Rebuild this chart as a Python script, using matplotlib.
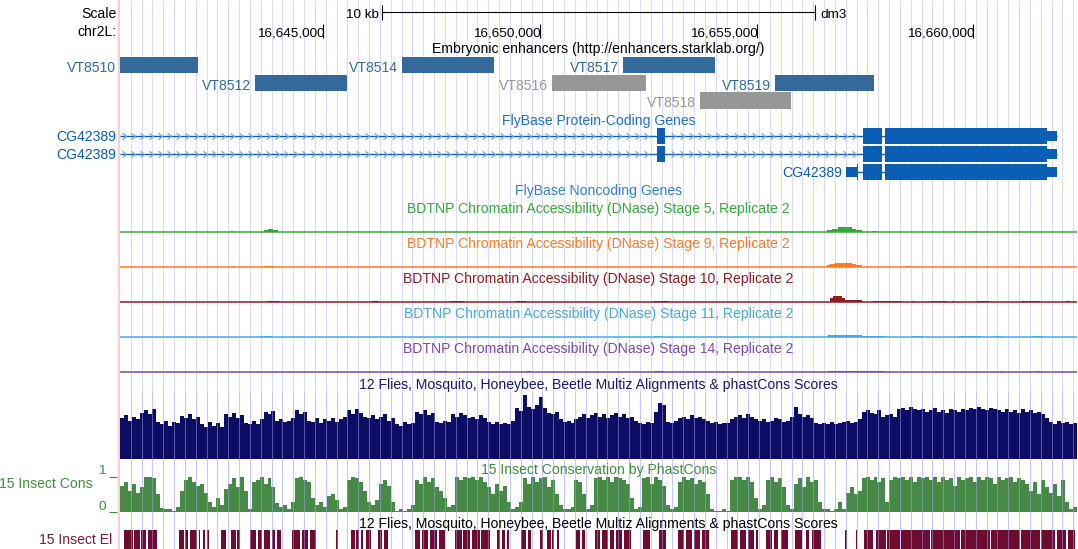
import numpy as np
import matplotlib
matplotlib.use("Agg")
import matplotlib.pyplot as plt
from matplotlib.path import Path

plt.rcParams['font.family'] = ['Liberation Sans', 'DejaVu Sans']

# ------------------------------------------------------------------ data
CHROM_LABEL = "chr2L:"
ASSEMBLY = "dm3"
VIEW_START = 16640309
VIEW_END = 16662393
SCALE_BAR_BP = 10000
scale_label = "10 kb"
tick_positions = [16645000, 16650000, 16655000, 16660000]
tick_labels = ["16,645,000", "16,650,000", "16,655,000", "16,660,000"]

COORD_BASE = 16640000          # offsets below are relative to this coordinate

# Embryonic enhancers (starklab)
enh_names = ["VT8510", "VT8512", "VT8514", "VT8516", "VT8517", "VT8518", "VT8519"]
enh_start = [-500, 3424, 6817, 10278, 11917, 13694, 15424]
enh_end = [2109, 5547, 8940, 12447, 14040, 15794, 17709]
enh_active = [True, True, True, False, True, False, True]
enh_row = [0, 1, 0, 1, 0, 2, 1]

# FlyBase protein-coding transcripts
gene_name = "CG42389"
tx_start = [-4000, -4000, 17063]
tx_end = [21932, 21932, 21932]
tx_thick_start = [-3900, -3900, 17317]
tx_thick_end = [21701, 21701, 21701]
tx_exon_starts = [[-4000, 12701, 17455, 17963], [-4000, 12701, 17455, 17963], [17063, 17455, 17963]]
tx_exon_ends = [[-3600, 12886, 17894, 21932], [-3600, 12886, 17894, 21932], [17340, 17894, 21932]]

# BDTNP DNase accessibility signal: (start offset, end offset, signal)
dnase_stages = ["Stage 5", "Stage 9", "Stage 10", "Stage 11", "Stage 14"]
dnase_s5 = [(2871, 2917, 1), (3632, 3955, 2), (3724, 3840, 3), (16624, 17432, 2.5),
            (16740, 17300, 3.5), (16878, 17201, 5), (17663, 17778, 1), (20040, 20086, 1)]
dnase_s9 = [(2917, 2963, 1), (3632, 3909, 1.5), (6147, 6194, 1), (16624, 17432, 2.5),
            (16700, 17300, 3.5), (16809, 17201, 4.5), (18424, 18563, 1.5), (20294, 20340, 1)]
dnase_s10 = [(3701, 3978, 1.5), (6101, 6286, 1.5), (7924, 8247, 1), (9424, 9678, 1),
             (12632, 12978, 1.5), (16690, 17040, 4), (16760, 16960, 6.5), (16994, 17432, 2),
             (17686, 18355, 1.5), (18586, 18632, 1), (19001, 19394, 1), (19509, 19555, 1),
             (20086, 20386, 1), (21101, 21540, 1.5), (22140, 22232, 1)]
dnase_s11 = [(3540, 3817, 1), (12632, 12771, 1), (16648, 17432, 2.5), (17432, 17963, 1.5),
             (18586, 18840, 1), (19671, 20178, 1.5), (20501, 20663, 1), (21378, 21609, 1)]
dnase_s14 = [(7555, 7855, 1), (9678, 9794, 1), (12632, 12863, 1), (16648, 17963, 1.5),
             (20640, 20686, 1), (21448, 21517, 1.5)]

# Multiz alignment score (fraction of track height), bins of CONS_BIN_BP from VIEW_START
CONS_BIN_BP = 92.0
multiz = [
 0.64,0.68,0.60,0.66,0.62,0.72,0.76,0.70,0.78,0.58,0.55,0.60,0.52,0.58,0.56,0.67,0.64,0.70,0.62,0.66,
 0.55,0.50,0.58,0.52,0.56,0.50,0.70,0.66,0.72,0.64,0.68,0.57,0.55,0.60,0.54,0.62,0.73,0.70,0.75,0.60,
 0.62,0.58,0.60,0.64,0.76,0.70,0.74,0.60,0.58,0.64,0.56,0.62,0.60,0.64,0.58,0.62,0.66,0.76,0.70,0.78,
 0.72,0.66,0.64,0.68,0.62,0.66,0.70,0.60,0.64,0.55,0.52,0.58,0.54,0.56,0.74,0.70,0.76,0.68,0.72,0.58,
 0.56,0.60,0.58,0.70,0.66,0.72,0.68,0.64,0.66,0.62,0.68,0.64,0.58,0.55,0.58,0.54,0.57,0.55,0.60,0.80,
 0.75,1.00,0.82,0.78,0.84,0.97,0.80,0.72,0.70,0.74,0.62,0.58,0.60,0.57,0.62,0.66,0.70,0.64,0.68,0.72,
 0.66,0.70,0.64,0.68,0.72,0.66,0.70,0.64,0.66,0.60,0.57,0.55,0.58,0.56,0.74,0.88,0.85,0.58,0.56,0.60,
 0.64,0.66,0.62,0.68,0.64,0.66,0.62,0.60,0.56,0.58,0.55,0.57,0.56,0.62,0.66,0.68,0.64,0.70,0.66,0.62,
 0.60,0.62,0.58,0.60,0.64,0.62,0.58,0.60,0.66,0.82,0.70,0.66,0.68,0.64,0.56,0.54,0.56,0.55,0.58,0.54,
 0.56,0.58,0.60,0.57,0.58,0.62,0.74,0.76,0.72,0.70,0.76,0.66,0.68,0.70,0.66,0.78,0.80,0.76,0.82,0.78,
 0.76,0.78,0.74,0.76,0.80,0.74,0.76,0.72,0.78,0.76,0.74,0.78,0.76,0.80,0.78,0.82,0.78,0.76,0.80,0.78,
 0.76,0.74,0.78,0.74,0.76,0.72,0.78,0.74,0.76,0.72,0.74,0.70,0.64,0.58,0.55,0.60,0.56,0.58,0.54,0.56]

# 15 insect phastCons score (0..1), same bins
phastcons = [
 0.75,0.85,0.60,0.80,0.55,0.70,1.00,1.00,0.95,0.50,0.12,0.08,0.10,0.05,0.15,0.60,0.90,1.00,0.85,0.75,
 0.80,0.55,0.30,0.15,0.40,0.20,0.65,0.80,0.95,0.70,1.00,0.60,0.10,0.85,0.90,1.00,0.80,0.95,0.70,0.25,
 0.15,0.20,0.10,0.30,0.95,1.00,0.90,0.85,0.40,0.20,0.30,0.15,0.45,0.50,0.35,0.10,0.15,0.90,1.00,0.95,
 0.85,0.60,0.30,0.20,0.35,0.80,0.90,0.75,0.30,0.05,0.08,0.05,0.10,0.20,0.90,0.80,1.00,0.85,0.95,0.70,
 0.60,0.40,0.15,0.20,1.00,0.90,1.00,0.95,1.00,0.90,1.00,0.85,0.70,0.50,0.80,0.60,0.75,0.30,0.10,0.15,
 0.30,0.95,0.80,1.00,0.85,0.95,1.00,0.70,0.90,0.50,0.20,0.08,0.10,0.15,0.90,0.85,0.50,0.10,0.20,0.95,
 1.00,0.90,1.00,0.85,1.00,0.95,0.90,0.80,0.40,0.10,0.15,0.95,1.00,0.80,1.00,0.90,0.75,0.20,0.10,0.15,
 0.85,1.00,0.90,0.95,0.80,0.90,0.85,0.50,0.10,0.05,0.05,0.10,0.05,0.90,1.00,1.00,0.90,1.00,0.85,0.40,
 0.10,0.20,0.90,1.00,0.85,0.95,0.70,0.20,0.10,0.80,0.95,0.70,1.00,0.85,0.90,0.30,0.08,0.10,0.05,0.10,
 0.30,0.10,0.55,0.70,0.50,0.60,0.95,1.00,0.90,1.00,0.85,0.95,0.30,0.90,1.00,0.95,1.00,0.90,1.00,0.85,
 1.00,0.95,1.00,0.90,1.00,0.85,1.00,0.90,0.95,0.75,1.00,0.90,0.95,1.00,0.85,1.00,0.90,1.00,0.95,0.80,
 1.00,0.90,0.95,1.00,0.85,0.95,0.90,0.80,0.60,0.85,0.50,0.90,0.70,0.55,0.80,0.45,0.90,0.30,0.10,0.15]

# 15 insect conserved elements (offsets)
el_start = [401,632,794,955,1671,1809,1924,2132,2224,2317,2640,2871,3009,3309,3494,3632,3817,3932,
            4278,4509,4694,5294,5640,5755,5871,5986,6263,6401,7117,7278,7463,7671,8040,8224,8432,
            8640,9009,9124,9240,9563,9724,10001,10163,10278,10394,10832,10971,11271,11432,11617,
            11755,11940,12378,12747,13186,13371,13555,13740,14409,14617,14801,14986,15217,15401,
            15563,15886,16140,16278,17040,17294,17478,17755,18009,18332,19024,19717,20409,21101,
            21563,21932,22186]
el_end = [609,771,909,1163,1786,1878,2086,2155,2271,2363,2755,2986,3078,3447,3586,3771,3886,4024,
          4463,4647,4832,5340,5732,5824,5917,6101,6355,6494,7232,7417,7624,7809,8201,8386,8617,
          8847,9078,9194,9286,9678,9794,10071,10255,10324,10440,10924,11040,11386,11571,11709,
          11894,12101,12540,12909,13324,13509,13694,13901,14571,14755,14940,15032,15355,15494,
          15724,16047,16209,16486,17086,17317,17686,17986,18309,19001,19694,20386,21078,21540,
          21886,22140,22348]

# ------------------------------------------------------------------ layout / style
FIG_W, FIG_H = 1078, 549
DATA_LEFT, DATA_RIGHT = 120, 1077
BP_PER_PX = (VIEW_END - VIEW_START) / (DATA_RIGHT - DATA_LEFT)
FS = 10.1
FS_NUM = 9.7
CENTER = (VIEW_START + VIEW_END) / 2


def gx(px):
    """genomic coordinate at a pixel column (layout helper for labels)"""
    return VIEW_START + (px - DATA_LEFT) * BP_PER_PX


def clip(a):
    return np.clip(np.asarray(a, dtype=float), VIEW_START, VIEW_END)


fig = plt.figure(figsize=(FIG_W / 100, FIG_H / 100), dpi=100)
ax = fig.add_axes([0, 0, 1, 1])
ax.set_xlim(gx(0), gx(FIG_W))
ax.set_ylim(FIG_H, 0)
ax.axis('off')


def text(x, y, s, color='black', ha='left', size=FS):
    ax.text(x, y, s, fontsize=size, color=color, ha=ha, va='baseline', zorder=6)


# guidelines
grid = np.arange(16640556, VIEW_END, 250)
ax.vlines(grid, 0, FIG_H, color='#dadafc', lw=0.75, zorder=0)
ax.vlines(grid, 392, FIG_H, color='#b0b0ff', alpha=0.45, lw=0.75, zorder=5)
ax.vlines(gx(119.2), 0, FIG_H, color='#f9caca', lw=1.3, zorder=1)

# scale / ruler
sb0, sb1 = CENTER - SCALE_BAR_BP / 2, CENTER + SCALE_BAR_BP / 2
ax.hlines(12, sb0, sb1, color='black', lw=0.8)
ax.vlines([sb0, sb1], 4.5, 20, color='black', lw=0.8)
text(gx(116.5), 17.5, "Scale", ha='right')
text(sb0 - 3 * BP_PER_PX, 17.5, scale_label, ha='right', size=FS_NUM)
text(sb1 + 5 * BP_PER_PX, 17.5, ASSEMBLY, size=FS_NUM)
text(gx(116.5), 36, CHROM_LABEL, ha='right')
ax.vlines(tick_positions, 23.5, 38, color='black', lw=0.8)
for tp, tl in zip(tick_positions, tick_labels):
    text(tp + 1 * BP_PER_PX, 36, tl, ha='right', size=FS_NUM)

# enhancers
text(CENTER, 53.5, "Embryonic enhancers (http://enhancers.starklab.org/)", ha='center')
e_s = clip(COORD_BASE + np.array(enh_start))
e_e = clip(COORD_BASE + np.array(enh_end))
for name, s, e, act, row in zip(enh_names, e_s, e_e, enh_active, enh_row):
    col = '#336a9b' if act else '#979797'
    top = 56.7 + 17.8 * row
    ax.barh(top + 8.3, e - s, left=s, height=16.6, color=col, lw=0, zorder=3)
    text(s - 4 * BP_PER_PX, top + 15, name, color=col, ha='right')

# genes
GENE_COL = '#0a5fb4'
text(CENTER, 125.5, "FlyBase Protein-Coding Genes", color='#1f70c8', ha='center')
chev = Path([(-0.3, 0.5), (0.3, 0.0), (-0.3, -0.5)], [Path.MOVETO, Path.LINETO, Path.LINETO])
row_y = [136, 154, 172]
for i in range(3):
    y = row_y[i]
    ts, te = clip(COORD_BASE + tx_start[i]), clip(COORD_BASE + tx_end[i])
    ks, ke = COORD_BASE + tx_thick_start[i], COORD_BASE + tx_thick_end[i]
    ax.hlines(y, ts, te, color=GENE_COL, lw=1.0, zorder=2)
    xs = clip(COORD_BASE + np.array(tx_exon_starts[i]))
    xe = clip(COORD_BASE + np.array(tx_exon_ends[i]))
    # intron direction chevrons
    if i < 2:
        pos = np.arange(gx(123.5), te, 208.0)
        keep = np.ones(len(pos), bool)
        for a, b in zip(xs, xe):
            keep &= ~((pos > a - 60) & (pos < b + 60))
        ax.plot(pos[keep], np.full(keep.sum(), y), ls='none', marker=chev, ms=4.6,
                mfc='none', mec='#7aa6de', mew=0.9, zorder=2)
    for a, b in zip(xs, xe):
        if b <= a:
            continue
        ax.barh(y, b - a, left=a, height=9.5, color=GENE_COL, lw=0, zorder=3)
        ta, tb = max(a, ks), min(b, ke)
        if tb > ta:
            ax.barh(y, tb - ta, left=ta, height=16.4, color=GENE_COL, lw=0, zorder=3)
    lx = gx(116.5) if tx_start[i] + COORD_BASE < VIEW_START else ts - 4 * BP_PER_PX
    text(lx, y + 5, gene_name, color=GENE_COL, ha='right')

text(CENTER, 195, "FlyBase Noncoding Genes", color='#2f80d8', ha='center')

# DNase tracks
dnase_colors = ['#35a935', '#ff7a22', '#8e1d1d', '#48aadc', '#7a4aaa']
dnase_data = [dnase_s5, dnase_s9, dnase_s10, dnase_s11, dnase_s14]
for k, (stage, col, data) in enumerate(zip(dnase_stages, dnase_colors, dnase_data)):
    base = 232.3 + 35 * k
    text(CENTER, base - 19.6,
         "BDTNP Chromatin Accessibility (DNase) %s, Replicate 2" % stage, color=col, ha='center')
    ax.hlines(base, VIEW_START, VIEW_END, color=col, lw=1.1, zorder=2)
    st = COORD_BASE + np.array([d[0] for d in data])
    en = COORD_BASE + np.array([d[1] for d in data])
    val = np.array([d[2] for d in data], dtype=float)
    ax.bar(st, -val, width=en - st, bottom=base, align='edge', color=col, lw=0, zorder=2)

# Multiz track
NAVY = '#0c0c64'
text(CENTER, 388.8, "12 Flies, Mosquito, Honeybee, Beetle Multiz Alignments & phastCons Scores",
     color='#1a1a6e', ha='center')
mz = np.array(multiz)
bx = VIEW_START + np.arange(len(mz) + 1) * CONS_BIN_BP
bx = np.clip(bx, VIEW_START, VIEW_END)
ax.fill_between(bx, 459, 459 - 64 * np.append(mz, mz[-1]), step='post', color=NAVY, lw=0, zorder=2)

# phastCons track
GREEN = '#468a46'
text(CENTER, 474, "15 Insect Conservation by PhastCons", color='#3f8f3f', ha='center')
pc = np.array(phastcons)
ax.fill_between(bx, 512.3, 512.3 - 35.6 * np.append(pc, pc[-1]), step='post', color=GREEN, lw=0, zorder=2)
text(gx(93), 488.5, "15 Insect Cons", color='#3f8f3f', ha='right')
text(gx(106), 474, "1", color='#3f8f3f', ha='right', size=FS_NUM)
text(gx(106), 510.5, "0", color='#3f8f3f', ha='right', size=FS_NUM)
ax.hlines([476.5, 512], gx(109), gx(117), color='#3f8f3f', lw=0.8)

# conserved elements
MAROON = '#6d0c30'
text(CENTER, 527.7, "12 Flies, Mosquito, Honeybee, Beetle Multiz Alignments & phastCons Scores",
     color='black', ha='center')
es = COORD_BASE + np.array(el_start)
ee = COORD_BASE + np.array(el_end)
ax.broken_barh(list(zip(es, ee - es)), (530, 19), facecolors=MAROON, lw=0, zorder=2)
text(gx(112.5), 544, "15 Insect El", color='#7a1b3b', ha='right')

fig.savefig("out.png", dpi=100)
